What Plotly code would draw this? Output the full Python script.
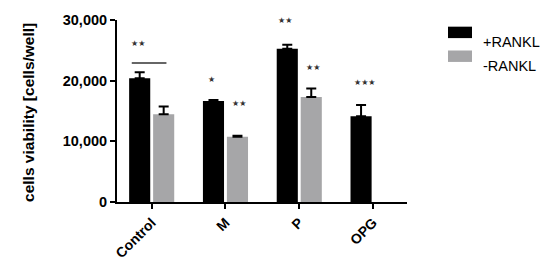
import plotly.graph_objects as go

# data
groups = ["Control", "M", "P", "OPG"]
plus_rankl = [20400, 16650, 25250, 14150]
plus_err = [1000, 150, 650, 1850]
minus_rankl = [14450, 10750, 17300, None]
minus_err = [1300, 150, 1400, None]

# significance marks above each bar
stars_plus = [2, 1, 2, 3]
stars_plus_y = [26200, 20250, 30000, 19700]
stars_minus = [0, 2, 2, 0]
stars_minus_y = [None, 16200, 22150, None]
bracket_y = 22900

font = "Liberation Sans, Arial, sans-serif"
gray = "#a6a6a8"

fig = go.Figure()
fig.add_trace(go.Bar(
    x=groups, y=plus_rankl, name="+RANKL",
    marker=dict(color="black", line=dict(width=0)),
    error_y=dict(type="data", array=plus_err, arrayminus=[0] * 4,
                 symmetric=False, color="black", thickness=2, width=5),
))
fig.add_trace(go.Bar(
    x=groups, y=minus_rankl, name="-RANKL",
    marker=dict(color=gray, line=dict(width=0)),
    error_y=dict(type="data", array=minus_err, arrayminus=[0] * 4,
                 symmetric=False, color="black", thickness=2, width=5),
))

# star annotations
star_font = dict(size=8, color="#333", family="DejaVu Sans")
for i, g in enumerate(groups):
    if stars_plus[i]:
        fig.add_annotation(x=g, y=stars_plus_y[i], text="★" * stars_plus[i],
                           xshift=-8 if i == 3 else -14,
                           showarrow=False, font=star_font)
    if stars_minus[i]:
        fig.add_annotation(x=g, y=stars_minus_y[i], text="★" * stars_minus[i],
                           xshift=14, showarrow=False, font=star_font)
fig.add_shape(type="line", xref="x", yref="y", x0=-0.27, x1=0.2,
              y0=bracket_y, y1=bracket_y, line=dict(color="#333", width=1.5))

# legend drawn by hand (wide swatches)
for k, (name, col) in enumerate([("+RANKL", "black"), ("-RANKL", gray)]):
    y0 = 1 - (25 + 25 * k - 18) / 191
    fig.add_shape(type="rect", xref="paper", yref="paper",
                  x0=(448 - 117) / 290, x1=(472 - 117) / 290,
                  y0=y0 - 12 / 191, y1=y0, fillcolor=col, line=dict(width=0))
    fig.add_annotation(xref="paper", yref="paper", x=(481 - 117) / 290, y=y0 - 6 / 191,
                       text=name, showarrow=False, xanchor="left",
                       font=dict(size=14.5, color="black"))

# y title as annotation so it sits where the original has it
fig.add_annotation(xref="paper", yref="paper", x=(18 - 117) / 290, y=(209 - 115) / 191,
                   text="cells viability [cells/well]", textangle=-90, showarrow=False,
                   font=dict(size=15.5, family=font, weight="bold", color="black"))

fig.update_layout(
    width=550, height=273,
    margin=dict(l=117, r=143, t=18, b=64),
    plot_bgcolor="white", paper_bgcolor="white",
    font=dict(family=font, color="black"),
    barmode="group", bargap=0.35, bargroupgap=0.12,
    showlegend=False,
)
fig.update_xaxes(
    range=[-0.47, 3.46], showline=True, linecolor="black", linewidth=2,
    ticks="outside", tickwidth=2, ticklen=5, tickcolor="black",
    tickangle=-45, tickfont=dict(size=14, family=font, weight="bold"),
    showgrid=False,
)
fig.update_yaxes(
    range=[0, 30000], tickvals=[0, 10000, 20000, 30000], tickformat=",",
    showline=True, linecolor="black", linewidth=2,
    ticks="outside", tickwidth=2, ticklen=5, tickcolor="black",
    tickfont=dict(size=14.5, family=font, weight="bold"),
    showgrid=False, zeroline=False,
)

# drop the default body margin so the figure sits at the page corner
fig.write_html("out.html", config={"displayModeBar": False},
               post_script="document.body.style.margin='0';")
